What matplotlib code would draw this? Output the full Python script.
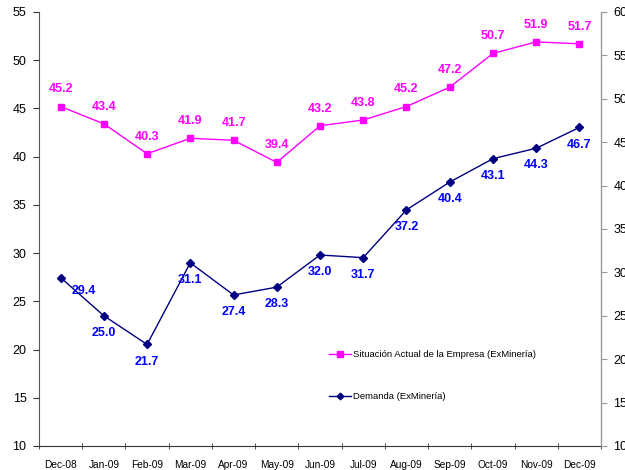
import matplotlib
matplotlib.use('Agg')
import matplotlib.pyplot as plt
import numpy as np

plt.rcParams['font.family'] = ['Liberation Sans', 'DejaVu Sans']

''' data '''
months = ['Dec-08', 'Jan-09', 'Feb-09', 'Mar-09', 'Apr-09', 'May-09', 'Jun-09',
          'Jul-09', 'Aug-09', 'Sep-09', 'Oct-09', 'Nov-09', 'Dec-09']
situacion = [45.2, 43.4, 40.3, 41.9, 41.7, 39.4, 43.2, 43.8, 45.2, 47.2, 50.7, 51.9, 51.7]
demanda = [29.4, 25.0, 21.7, 31.1, 27.4, 28.3, 32.0, 31.7, 37.2, 40.4, 43.1, 44.3, 46.7]

x = np.arange(len(months))

fig = plt.figure(figsize=(6.25, 4.7), dpi=100)
ax = fig.add_axes([0.0624, 0.0511, 0.8992, 0.9234])
ax2 = ax.twinx()

l1, = ax.plot(x, situacion, color='#FF00FF', lw=1, marker='s', ms=5,
              label='Situación Actual de la Empresa (ExMinería)')
l2, = ax2.plot(x, demanda, color='#000080', lw=1, marker='D', ms=4,
               label='Demanda (ExMinería)')

for xi, v in zip(x, situacion):
    ax.annotate(f'{v:.1f}', (xi, v), xytext=(0, 8), textcoords='offset points',
                ha='center', va='bottom', color='#FF00FF', fontsize=9, fontweight='bold')
for i, (xi, v) in enumerate(zip(x, demanda)):
    off = (17, -5) if i == 0 else (0, -8)
    ax2.annotate(f'{v:.1f}', (xi, v), xytext=off, textcoords='offset points',
                 ha='center', va='top', color='#0000FF', fontsize=9, fontweight='bold')

ax.set_xlim(-0.5, len(months) - 0.5)
ax.set_ylim(10, 55)
ax.set_yticks(np.arange(10, 56, 5))
ax2.set_ylim(10, 60)
ax2.set_yticks(np.arange(10, 61, 5))

ax.set_xticks(x)
ax.set_xticklabels(months, fontsize=7.3)
ax.set_xticks(np.arange(-0.5, len(months), 1), minor=True)
ax.tick_params(axis='x', which='major', length=0, pad=10)
ax.tick_params(axis='x', which='minor', length=5, direction='inout', color='#333333')
ax.tick_params(axis='y', labelsize=9, length=4, color='#333333', pad=5)
ax2.tick_params(axis='y', labelsize=9, length=4, color='#999999', pad=5)

for a in (ax, ax2):
    a.spines['top'].set_visible(False)
ax.spines['left'].set_color('#555555')
ax.spines['bottom'].set_color('#333333')
ax2.spines['right'].set_color('#999999')
ax2.spines['left'].set_visible(False)
ax2.spines['bottom'].set_visible(False)

ax2.legend([l1, l2], [l1.get_label(), l2.get_label()], loc='upper left',
           bbox_to_anchor=(0.5, 0.24), frameon=False, fontsize=6.8,
           handlelength=2.4, handletextpad=0.2, labelspacing=3.5, markerscale=0.85)

fig.savefig('out.png', dpi=100)
